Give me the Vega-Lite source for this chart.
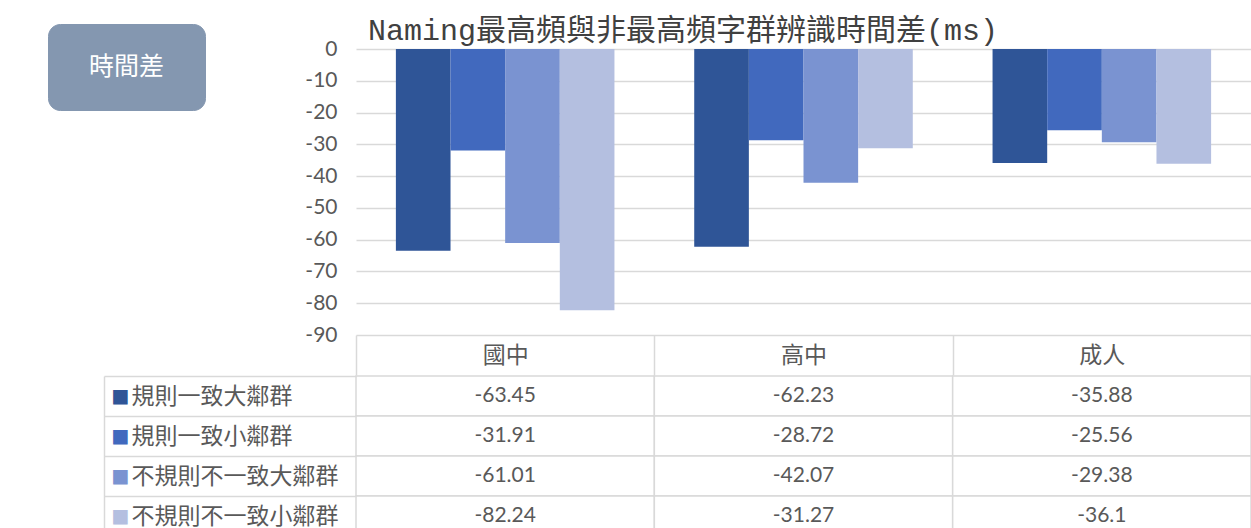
{
  "$schema": "https://vega.github.io/schema/vega-lite/v6.json",
  "padding": {"left": 47, "top": 15, "right": 0, "bottom": 0},
  "background": "white",
  "spacing": -14,
  "config": {"view": {"stroke": null}, "font": "Lato"},
  "datasets": {
    "d": [
      {"group": "國中", "series": "規則一致大鄰群", "value": -63.45},
      {"group": "國中", "series": "規則一致小鄰群", "value": -31.91},
      {"group": "國中", "series": "不規則不一致大鄰群", "value": -61.01},
      {"group": "國中", "series": "不規則不一致小鄰群", "value": -82.24},
      {"group": "高中", "series": "規則一致大鄰群", "value": -62.23},
      {"group": "高中", "series": "規則一致小鄰群", "value": -28.72},
      {"group": "高中", "series": "不規則不一致大鄰群", "value": -42.07},
      {"group": "高中", "series": "不規則不一致小鄰群", "value": -31.27},
      {"group": "成人", "series": "規則一致大鄰群", "value": -35.88},
      {"group": "成人", "series": "規則一致小鄰群", "value": -25.56},
      {"group": "成人", "series": "不規則不一致大鄰群", "value": -29.38},
      {"group": "成人", "series": "不規則不一致小鄰群", "value": -36.1}
    ]
  },
  "resolve": {"legend": {"strokeDash": "independent"}},
  "vconcat": [
    {
      "width": 895,
      "height": 286,
      "data": {"name": "d"},
      "title": {
        "text": "Naming最高頻與非最高頻字群辨識時間差(ms)",
        "anchor": "start",
        "frame": "group",
        "dx": 12,
        "offset": -22,
        "font": "Liberation Mono, Noto Sans CJK TC",
        "fontSize": 30,
        "fontWeight": "normal",
        "color": "#404040"
      },
      "mark": {"type": "bar"},
      "encoding": {
        "x": {
          "field": "group", "type": "nominal", "sort": ["國中", "高中", "成人"],
          "scale": {"domain": ["國中", "高中", "成人"], "paddingInner": 0, "paddingOuter": 0},
          "axis": {
            "title": null, "domain": false, "ticks": true, "tickBand": "extent",
            "tickSize": 40, "tickColor": "#d9d9d9", "tickWidth": 1.5,
            "labelAngle": 0, "labelFont": "Noto Sans CJK TC", "labelFontSize": 23,
            "labelColor": "#595959", "labelBaseline": "middle", "labelPadding": -20, "grid": false
          }
        },
        "xOffset": {
          "field": "series", "type": "nominal",
          "sort": ["規則一致大鄰群", "規則一致小鄰群", "不規則不一致大鄰群", "不規則不一致小鄰群"],
          "scale": {"paddingInner": 0, "paddingOuter": 0.73}
        },
        "y": {
          "field": "value", "type": "quantitative",
          "scale": {"domain": [-90, 0], "nice": false},
          "axis": {
            "values": [0, -10, -20, -30, -40, -50, -60, -70, -80, -90],
            "labelExpr": "'' + datum.value",
            "title": null, "domain": false, "ticks": false, "labelPadding": 19,
            "labelFont": "Lato", "labelFontSize": 21, "labelColor": "#595959",
            "gridColor": "#d9d9d9", "gridWidth": 1.5
          }
        },
        "color": {
          "field": "series", "type": "nominal",
          "scale": {
            "domain": ["規則一致大鄰群", "規則一致小鄰群", "不規則不一致大鄰群", "不規則不一致小鄰群"],
            "range": ["#2f5597", "#4169be", "#7a93d1", "#b4bfe0"]
          },
          "legend": null
        },
        "strokeDash": {
          "datum": "時間差", "type": "nominal",
          "legend": {
            "orient": "none", "legendX": -308, "legendY": -25,
            "title": " ", "titleOrient": "right", "titleFontSize": 1, "titlePadding": 11,
            "titleColor": "#8497b0",
            "padding": 30, "cornerRadius": 12,
            "fillColor": "#8497b0", "strokeColor": "#8497b0",
            "symbolSize": 0, "symbolOpacity": 0, "symbolStrokeWidth": 0,
            "labelOffset": -14,
            "labelFont": "Noto Sans CJK TC", "labelFontSize": 25, "labelColor": "white"
          }
        }
      }
    },
    {
      "width": 895,
      "height": 160,
      "data": {"name": "d"},
      "layer": [
        {
          "mark": {"type": "rect", "fill": "white", "stroke": "#d9d9d9", "strokeWidth": 1.5},
          "encoding": {
            "x": {
              "field": "group", "type": "nominal", "sort": ["國中", "高中", "成人"],
              "scale": {"domain": ["國中", "高中", "成人"], "paddingInner": 0, "paddingOuter": 0},
              "axis": null
            },
            "y": {
              "field": "series", "type": "nominal",
              "scale": {"domain": ["規則一致大鄰群", "規則一致小鄰群", "不規則不一致大鄰群", "不規則不一致小鄰群"], "paddingInner": 0, "paddingOuter": 0},
              "axis": {
                "orient": "left", "title": null, "domain": false, "ticks": true,
                "tickBand": "extent", "tickSize": 252, "tickColor": "#d9d9d9", "tickWidth": 1.5,
                "labelAlign": "left", "labelBaseline": "middle", "labelPadding": -27,
                "labelFont": "Noto Sans CJK TC", "labelFontSize": 23, "labelColor": "#595959",
                "labelLimit": 400, "grid": false
              }
            }
          }
        },
        {
          "mark": {"type": "text", "font": "Lato", "fontSize": 21, "color": "#595959"},
          "encoding": {
            "x": {"field": "group", "type": "nominal", "sort": ["國中", "高中", "成人"], "axis": null},
            "y": {
              "field": "series", "type": "nominal",
              "axis": {
                "orient": "left", "offset": 252, "title": null,
                "domain": true, "domainColor": "#d9d9d9", "domainWidth": 1.5,
                "ticks": false, "grid": false,
                "labelExpr": "'■'", "labelAlign": "left", "labelBaseline": "middle",
                "labelPadding": -7, "labelFont": "DejaVu Sans", "labelFontSize": 19,
                "labelColor": {
                  "condition": [
                    {"test": "datum.value === '規則一致大鄰群'", "value": "#2f5597"},
                    {"test": "datum.value === '規則一致小鄰群'", "value": "#4169be"},
                    {"test": "datum.value === '不規則不一致大鄰群'", "value": "#7a93d1"}
                  ],
                  "value": "#b4bfe0"
                }
              }
            },
            "text": {"field": "value", "type": "nominal"}
          }
        }
      ],
      "resolve": {"axis": {"y": "independent"}}
    }
  ]
}
